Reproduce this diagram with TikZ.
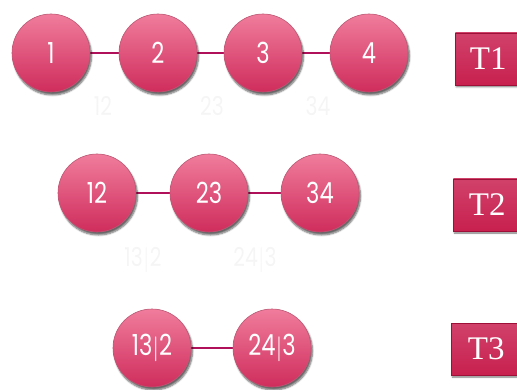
\documentclass[tikz,border=0pt]{standalone}
\usepackage{fontspec}
\usetikzlibrary{shadows.blur,backgrounds}
\newfontfamily\circfont[FakeStretch=0.78]{Poppins}
\newfontfamily\boxfont{Liberation Serif}
\definecolor{ctop}{HTML}{F07C9C}
\definecolor{cbot}{HTML}{CF2D5C}
\definecolor{crim}{HTML}{C8204F}
\definecolor{crimdark}{HTML}{9E1038}
\definecolor{edgecol}{HTML}{B0105A}
\definecolor{faint}{HTML}{F5F5F5}
\tikzset{
  ball/.style={circle, minimum size=78pt, inner sep=0pt, top color=ctop, bottom color=cbot,
    draw=crimdark!70, line width=0.6pt, text=white, font=\circfont\fontsize{29}{29}\selectfont,
    blur shadow={shadow xshift=1.5pt, shadow yshift=-3pt, shadow blur steps=6, shadow opacity=60}},
  tbox/.style={rectangle, anchor=west, minimum width=72pt, minimum height=52pt, inner sep=0pt,
    top color=crim!85!white, bottom color=crim, draw=crimdark, line width=0.6pt,
    text=white, font=\boxfont\fontsize{33}{33}\selectfont, text depth=0pt,
    blur shadow={shadow xshift=1pt, shadow yshift=-2pt, shadow blur steps=4, shadow opacity=50}},
  link/.style={draw=edgecol, line width=2.4pt},
  elab/.style={text=faint, font=\circfont\fontsize{26}{26}\selectfont, inner sep=0pt}
}
\begin{document}
\begin{tikzpicture}[x=1pt,y=-1pt]
\useasboundingbox (0,0) rectangle (517,390);
\begin{scope}
\clip (0,0) rectangle (517,390);
% row 1
\node[ball] (n1) at (51,53) {1};
\node[ball] (n2) at (158,53) {2};
\node[ball] (n3) at (263,53) {3};
\node[ball] (n4) at (369,53) {4};
% row 2
\node[ball] (n12) at (97,193) {12};
\node[ball] (n23) at (209,193) {23};
\node[ball] (n34) at (320,193) {34};
% row 3
\node[ball] (n132) at (152,348) {13$|$2};
\node[ball] (n243) at (272,348) {24$|$3};
% boxes
\node[tbox] (t1) at (455,59) {\hspace*{-6pt}T1};
\node[tbox] (t2) at (453,205) {\hspace*{-4pt}T2};
\node[tbox] (t3) at (451,349) {\hspace*{-2pt}T3};
\begin{pgfonlayer}{background}
\draw[link] (n1) -- (n2);
\draw[link] (n2) -- (n3);
\draw[link] (n3) -- (n4);
\draw[link] (n12) -- (n23);
\draw[link] (n23) -- (n34);
\draw[link] (n132) -- (n243);
\node[elab] (l12) at (103,106) {12};
\node[elab] (l23) at (212,106) {23};
\node[elab] (l34) at (318,106) {34};
\node[elab] (l132) at (143,260) {13$|$2};
\node[elab] (l243) at (255,260) {24$|$3};
\end{pgfonlayer}
\end{scope}
\end{tikzpicture}
\end{document}
